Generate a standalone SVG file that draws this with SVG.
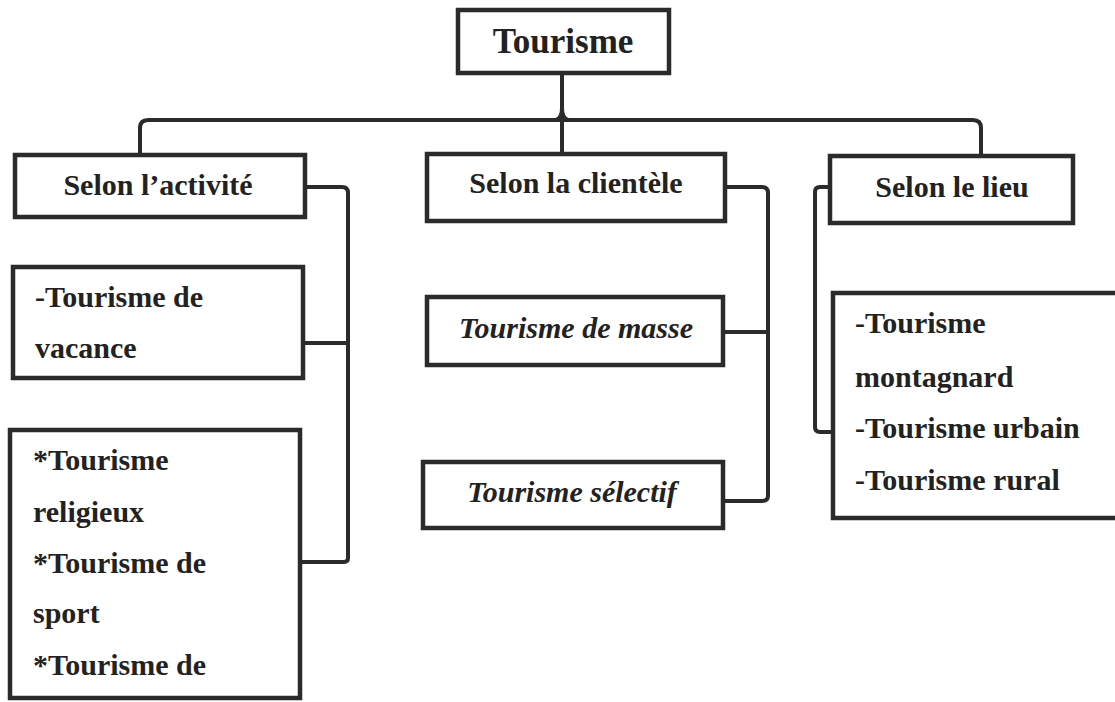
<svg xmlns="http://www.w3.org/2000/svg" width="1115" height="702" viewBox="0 0 1115 702">
<style>
.box{fill:#fff;stroke:#2b2b2b;stroke-width:4.5}
.conn{fill:none;stroke:#2b2b2b;stroke-width:4;stroke-linejoin:round}
.t{font-family:"Liberation Serif","Times New Roman",serif;font-weight:bold;font-size:30px;fill:#222}
.c{text-anchor:middle}
.i{font-style:italic}
</style>
<rect width="1115" height="702" fill="#fff"/>
<g id="connectors">
<path class="conn" d="M562,73 V153"/>
<path class="conn" d="M140,154 V128 Q140,120 148,120 H973 Q981,120 981,128 V155"/>
<path class="conn" d="M556,120 Q562,118 562,108 Q562,118 568,120"/>
<path class="conn" d="M305,187 H342 Q348,187 348,193 V558 Q348,562 343,562 H302"/>
<path class="conn" d="M303,343 H348"/>
<path class="conn" d="M725,187 H762 Q768,187 768,193 V496 Q768,501 762,501 H723"/>
<path class="conn" d="M723,332 H768"/>
<path class="conn" d="M830,187 H820 Q815,187 815,192 V427 Q815,432 820,432 H833"/>
</g>
<g id="n-tourisme">
<rect class="box" x="458" y="10" width="211" height="63"/>
<text class="t c" x="563" y="53" style="font-size:35px">Tourisme</text>
</g>
<g id="n-activite">
<rect class="box" x="15" y="155" width="290" height="62"/>
<text class="t c" x="158" y="195">Selon l’activité</text>
</g>
<g id="n-clientele">
<rect class="box" x="427" y="154" width="298" height="67"/>
<text class="t c" x="576" y="193">Selon la clientèle</text>
</g>
<g id="n-lieu">
<rect class="box" x="830" y="156" width="243" height="67"/>
<text class="t c" x="952" y="197">Selon le lieu</text>
</g>
<g id="n-vacance">
<rect class="box" x="13" y="267" width="290" height="111"/>
<text class="t" x="35" y="307">-Tourisme de</text>
<text class="t" x="35" y="358">vacance</text>
</g>
<g id="n-religieux">
<rect class="box" x="10" y="430" width="290" height="268"/>
<text class="t" x="33" y="470">*Tourisme</text>
<text class="t" x="33" y="522">religieux</text>
<text class="t" x="33" y="573">*Tourisme de</text>
<text class="t" x="33" y="623">sport</text>
<text class="t" x="33" y="675">*Tourisme de</text>
</g>
<g id="n-masse">
<rect class="box" x="427" y="297" width="296" height="68"/>
<text class="t c i" x="576" y="338">Tourisme de masse</text>
</g>
<g id="n-selectif">
<rect class="box" x="423" y="462" width="300" height="66"/>
<text class="t c i" x="572" y="502">Tourisme sélectif</text>
</g>
<g id="n-lieux">
<rect class="box" x="833" y="293" width="290" height="225"/>
<text class="t" x="855" y="333">-Tourisme</text>
<text class="t" x="855" y="387">montagnard</text>
<text class="t" x="855" y="438">-Tourisme urbain</text>
<text class="t" x="855" y="490">-Tourisme rural</text>
</g>
</svg>
